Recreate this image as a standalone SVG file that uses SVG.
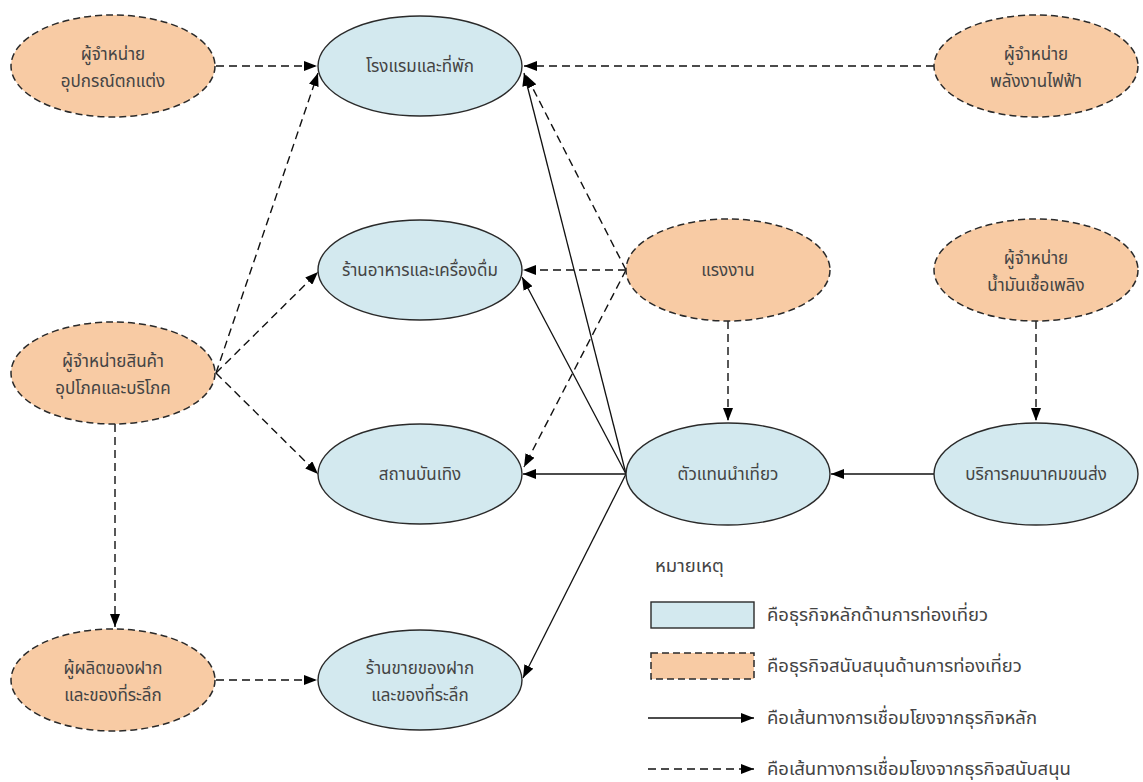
<svg xmlns="http://www.w3.org/2000/svg" width="1143" height="782" viewBox="0 0 1143 782">
<style>
.main{fill:#d3e9ef;stroke:#2a2a2a;stroke-width:1.4}
.sup{fill:#f8cba4;stroke:#2a2a2a;stroke-width:1.5;stroke-dasharray:7 4}
.t{font-family:"Noto Sans Thai","Noto Sans","DejaVu Sans",sans-serif;font-size:17px;fill:#444;text-anchor:middle}
.lt{font-family:"Noto Sans Thai","Noto Sans","DejaVu Sans",sans-serif;font-size:18.5px;fill:#444}
.s{fill:none;stroke:#111;stroke-width:1.3;marker-end:url(#ah)}
.d{fill:none;stroke:#111;stroke-width:1.4;stroke-dasharray:8 5;marker-end:url(#ah)}
</style>
<defs>
<marker id="ah" markerUnits="userSpaceOnUse" markerWidth="13" markerHeight="10" refX="13" refY="5" orient="auto">
<path d="M0,0 L13,5 L0,10 z" fill="#000"/>
</marker>
</defs>
<rect width="1143" height="782" fill="#fff"/>
<g id="connectors">
<line class="d" x1="216" y1="66" x2="317" y2="66"/>
<line class="d" x1="934" y1="66" x2="524" y2="66"/>
<line class="d" x1="216" y1="373" x2="318" y2="73"/>
<line class="d" x1="216" y1="373" x2="318" y2="272"/>
<line class="d" x1="216" y1="373" x2="318" y2="474"/>
<line class="d" x1="115" y1="424" x2="115" y2="627"/>
<line class="d" x1="216" y1="680" x2="317" y2="680"/>
<line class="d" x1="626" y1="270" x2="523" y2="270"/>
<line class="d" x1="626" y1="270" x2="526" y2="75"/>
<line class="d" x1="626" y1="270" x2="524" y2="467"/>
<line class="d" x1="728" y1="321" x2="728" y2="421"/>
<line class="d" x1="1036" y1="321" x2="1036" y2="421"/>
<line class="s" x1="934" y1="474" x2="831" y2="474"/>
<line class="s" x1="626" y1="474" x2="524" y2="73"/>
<line class="s" x1="626" y1="474" x2="522" y2="277"/>
<line class="s" x1="626" y1="474" x2="523" y2="474"/>
<line class="s" x1="626" y1="474" x2="523" y2="678"/>
</g>
<g id="n-decor"><ellipse class="sup" cx="113" cy="66" rx="102" ry="51"/><text class="t" x="113" y="60">ผู้จำหน่าย</text><text class="t" x="113" y="87">อุปกรณ์ตกแต่ง</text></g>
<g id="n-hotel"><ellipse class="main" cx="420" cy="66" rx="102" ry="50"/><text class="t" x="420" y="72">โรงแรมและที่พัก</text></g>
<g id="n-power"><ellipse class="sup" cx="1036" cy="66" rx="102" ry="51"/><text class="t" x="1036" y="60">ผู้จำหน่าย</text><text class="t" x="1036" y="87">พลังงานไฟฟ้า</text></g>
<g id="n-food"><ellipse class="main" cx="420" cy="270" rx="102" ry="50"/><text class="t" x="420" y="276">ร้านอาหารและเครื่องดื่ม</text></g>
<g id="n-labor"><ellipse class="sup" cx="728" cy="270" rx="102" ry="51"/><text class="t" x="728" y="276">แรงงาน</text></g>
<g id="n-fuel"><ellipse class="sup" cx="1036" cy="270" rx="102" ry="51"/><text class="t" x="1036" y="264">ผู้จำหน่าย</text><text class="t" x="1036" y="291">น้ำมันเชื้อเพลิง</text></g>
<g id="n-consumer"><ellipse class="sup" cx="113" cy="373" rx="102" ry="51"/><text class="t" x="113" y="367">ผู้จำหน่ายสินค้า</text><text class="t" x="113" y="394">อุปโภคและบริโภค</text></g>
<g id="n-entertain"><ellipse class="main" cx="420" cy="474" rx="102" ry="50"/><text class="t" x="420" y="480">สถานบันเทิง</text></g>
<g id="n-agent"><ellipse class="main" cx="728" cy="474" rx="102" ry="51"/><text class="t" x="728" y="480">ตัวแทนนำเที่ยว</text></g>
<g id="n-transport"><ellipse class="main" cx="1036" cy="474" rx="102" ry="51"/><text class="t" x="1036" y="480">บริการคมนาคมขนส่ง</text></g>
<g id="n-producer"><ellipse class="sup" cx="113" cy="680" rx="102" ry="51"/><text class="t" x="113" y="674">ผู้ผลิตของฝาก</text><text class="t" x="113" y="701">และของที่ระลึก</text></g>
<g id="n-shop"><ellipse class="main" cx="420" cy="680" rx="102" ry="50"/><text class="t" x="420" y="674">ร้านขายของฝาก</text><text class="t" x="420" y="701">และของที่ระลึก</text></g>
<g id="legend">
<text class="lt" x="655" y="572">หมายเหตุ</text>
<rect class="main" x="651" y="602" width="103" height="26"/>
<text class="lt" x="767" y="621">คือธุรกิจหลักด้านการท่องเที่ยว</text>
<rect class="sup" x="651" y="653" width="103" height="26"/>
<text class="lt" x="767" y="672">คือธุรกิจสนับสนุนด้านการท่องเที่ยว</text>
<line class="s" x1="648" y1="718" x2="754" y2="718"/>
<text class="lt" x="767" y="724">คือเส้นทางการเชื่อมโยงจากธุรกิจหลัก</text>
<line class="d" x1="648" y1="769" x2="754" y2="769"/>
<text class="lt" x="767" y="775">คือเส้นทางการเชื่อมโยงจากธุรกิจสนับสนุน</text>
</g>
</svg>
